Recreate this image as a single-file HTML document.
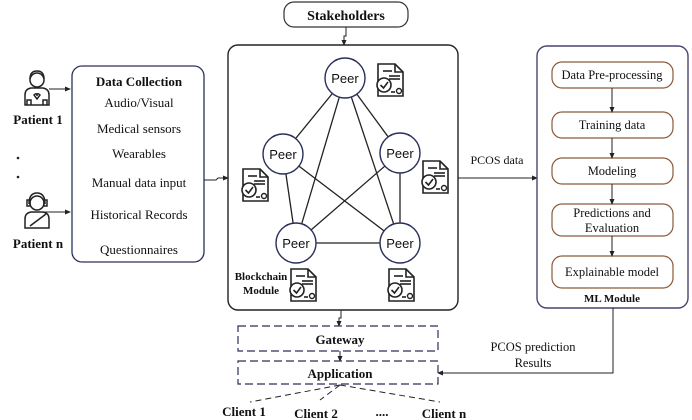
<!DOCTYPE html>
<html><head><meta charset="utf-8"><style>
html,body{margin:0;padding:0;background:#fff;}
svg{display:block;}
text{font-family:"Liberation Serif",serif;fill:#111;}
.b{font-weight:bold;}
.s{font-family:"Liberation Sans",sans-serif;}
</style></head><body>
<svg width="692" height="420" viewBox="0 0 692 420" xmlns="http://www.w3.org/2000/svg">
<defs>
<marker id="a" markerWidth="6" markerHeight="6" refX="5" refY="3" orient="auto"><path d="M0,0.5 L6,3 L0,5.5 z" fill="#222"/></marker>
<symbol id="doc" viewBox="0 0 30 34">
<path d="M3,1 H20 L28,9 V33 H3 Z" fill="#fff" stroke="#222" stroke-width="1.6"/>
<path d="M20,1 V9 H28" fill="none" stroke="#222" stroke-width="1.6"/>
<line x1="8" y1="8" x2="17" y2="8" stroke="#222" stroke-width="1.6"/>
<line x1="14" y1="13" x2="25" y2="13" stroke="#222" stroke-width="1.6"/>
<line x1="14" y1="16" x2="25" y2="16" stroke="#222" stroke-width="1.6"/>
<circle cx="9" cy="22" r="7" fill="#fff" stroke="#222" stroke-width="1.6"/>
<path d="M5.5,22 L8.5,25 L13,19" fill="none" stroke="#222" stroke-width="1.6"/>
<line x1="16" y1="29" x2="20" y2="29" stroke="#222" stroke-width="1.6"/>
<circle cx="24" cy="28" r="2.5" fill="none" stroke="#222" stroke-width="1.4"/>
</symbol>
</defs>

<!-- Stakeholders -->
<rect x="284" y="2" width="124" height="25" rx="10" fill="#fff" stroke="#333" stroke-width="1.2"/>
<text x="346" y="20" text-anchor="middle" class="b" font-size="14">Stakeholders</text>
<polyline points="346,27 346,36 344,36 344,45" fill="none" stroke="#222" marker-end="url(#a)"/>

<!-- Blockchain box -->
<rect x="228" y="45" width="230" height="265" rx="10" fill="#fff" stroke="#222" stroke-width="1.4"/>

<!-- peer lines -->
<g stroke="#222" stroke-width="1.3">
<line x1="345" y1="78" x2="283" y2="154"/>
<line x1="345" y1="78" x2="400" y2="153"/>
<line x1="345" y1="78" x2="296" y2="243"/>
<line x1="345" y1="78" x2="400" y2="243"/>
<line x1="283" y1="154" x2="400" y2="243"/>
<line x1="400" y1="153" x2="296" y2="243"/>
<line x1="283" y1="154" x2="296" y2="243"/>
<line x1="400" y1="153" x2="400" y2="243"/>
<line x1="296" y1="243" x2="400" y2="243"/>
</g>
<g fill="#fff" stroke="#2a2f5a" stroke-width="1.4">
<circle cx="345" cy="78" r="20"/>
<circle cx="283" cy="154" r="20"/>
<circle cx="400" cy="153" r="20"/>
<circle cx="296" cy="243" r="20"/>
<circle cx="400" cy="243" r="20"/>
</g>
<g class="s" font-size="13" text-anchor="middle">
<text x="345" y="83" class="s">Peer</text>
<text x="283" y="159" class="s">Peer</text>
<text x="400" y="158" class="s">Peer</text>
<text x="296" y="248" class="s">Peer</text>
<text x="400" y="248" class="s">Peer</text>
</g>
<use href="#doc" x="375" y="63" width="30" height="34"/>
<use href="#doc" x="240" y="168" width="30" height="34"/>
<use href="#doc" x="420" y="160" width="30" height="34"/>
<use href="#doc" x="288" y="268" width="30" height="34"/>
<use href="#doc" x="386" y="268" width="30" height="34"/>
<text x="261" y="280" text-anchor="middle" class="b" font-size="11">Blockchain</text>
<text x="261" y="294" text-anchor="middle" class="b" font-size="11">Module</text>

<!-- Patients -->
<g fill="none" stroke="#222" stroke-width="1.5">
<circle cx="37" cy="80" r="7"/>
<path d="M30,79 Q30,71 37,71 Q44,71 44,79"/>
<path d="M25,105 V95 Q25,89 31,88 L43,88 Q49,89 49,95 V105 Z"/>
<path d="M27,105 V100 H31 V105 M43,105 V100 H47 V105"/>
<path d="M34,95 Q37,92 37,96 Q37,92 40,95 L37,99 Z"/>
</g>
<text x="38" y="124" text-anchor="middle" class="b" font-size="13">Patient 1</text>
<circle cx="18" cy="158" r="1.3" fill="#222"/>
<circle cx="18" cy="177" r="1.3" fill="#222"/>
<g fill="none" stroke="#222" stroke-width="1.5">
<circle cx="37" cy="203" r="7"/>
<path d="M29,204 Q29,193 37,193 Q45,193 45,204"/>
<rect x="27" y="200" width="3" height="6"/><rect x="44" y="200" width="3" height="6"/>
<path d="M25,228 V219 Q25,213 31,212 L43,212 Q49,213 49,219 V228 Z"/>
<line x1="30" y1="226" x2="46" y2="214"/>
</g>
<text x="38" y="248" text-anchor="middle" class="b" font-size="13">Patient n</text>
<line x1="49" y1="89" x2="70" y2="89" stroke="#222" marker-end="url(#a)"/>
<line x1="38" y1="212" x2="70" y2="212" stroke="#222" marker-end="url(#a)"/>

<!-- Data collection -->
<rect x="72" y="66" width="132" height="196" rx="10" fill="#fff" stroke="#2a2f5a" stroke-width="1.3"/>
<g font-size="13" text-anchor="middle">
<text x="139" y="86" class="b">Data Collection</text>
<text x="139" y="107">Audio/Visual</text>
<text x="139" y="133">Medical sensors</text>
<text x="139" y="158">Wearables</text>
<text x="139" y="187">Manual data input</text>
<text x="139" y="219">Historical Records</text>
<text x="139" y="254">Questionnaires</text>
</g>
<polyline points="204,180 216,180 218,178 228,178" fill="none" stroke="#222" marker-end="url(#a)"/>

<!-- PCOS data -->
<line x1="458" y1="178" x2="537" y2="178" stroke="#222" marker-end="url(#a)"/>
<text x="497" y="164" text-anchor="middle" font-size="12">PCOS  data</text>

<!-- ML module -->
<rect x="537" y="46" width="151" height="262" rx="10" fill="#fff" stroke="#4a4470" stroke-width="1.4"/>
<g fill="#fff" stroke="#8a5a3a" stroke-width="1.2">
<rect x="552" y="62" width="121" height="26" rx="10"/>
<rect x="552" y="112" width="121" height="26" rx="10"/>
<rect x="552" y="158" width="121" height="26" rx="10"/>
<rect x="552" y="204" width="121" height="32" rx="10"/>
<rect x="552" y="256" width="121" height="32" rx="10"/>
</g>
<g stroke="#222" marker-end="url(#a)">
<line x1="612" y1="88" x2="612" y2="112"/>
<line x1="612" y1="138" x2="612" y2="158"/>
<line x1="612" y1="184" x2="612" y2="204"/>
<line x1="612" y1="236" x2="612" y2="256"/>
</g>
<g font-size="12.5" text-anchor="middle">
<text x="612" y="79">Data Pre-processing</text>
<text x="612" y="129">Training data</text>
<text x="612" y="175">Modeling</text>
<text x="612" y="217">Predictions and</text>
<text x="612" y="232">Evaluation</text>
<text x="612" y="276">Explainable model</text>
<text x="612" y="302" class="b" font-size="11">ML Module</text>
</g>

<!-- results -->
<polyline points="613,308 613,373 438,373" fill="none" stroke="#222" marker-end="url(#a)"/>
<text x="533" y="351" text-anchor="middle" font-size="12.5">PCOS prediction</text>
<text x="533" y="367" text-anchor="middle" font-size="12.5">Results</text>

<!-- gateway/app -->
<polyline points="341,310 341,318 339,318 339,326" fill="none" stroke="#222" marker-end="url(#a)"/>
<rect x="238" y="326" width="200" height="25" fill="#fff" stroke="#2a2f5a" stroke-width="1.2" stroke-dasharray="8,4"/>
<text x="340" y="344" text-anchor="middle" class="b" font-size="13">Gateway</text>
<line x1="340" y1="351" x2="340" y2="361" stroke="#222" marker-end="url(#a)"/>
<rect x="238" y="361" width="200" height="23" fill="#fff" stroke="#2a2f5a" stroke-width="1.2" stroke-dasharray="8,4"/>
<text x="340" y="378" text-anchor="middle" class="b" font-size="13">Application</text>
<g stroke="#222" stroke-dasharray="6,4">
<line x1="340" y1="385" x2="250" y2="402"/>
<line x1="340" y1="385" x2="320" y2="400"/>
<line x1="340" y1="385" x2="440" y2="402"/>
</g>
<g class="b" font-size="13" text-anchor="middle">
<text x="244" y="416">Client 1</text>
<text x="316" y="418">Client 2</text>
<text x="382" y="416">....</text>
<text x="444" y="418">Client n</text>
</g>
</svg>
</body></html>
